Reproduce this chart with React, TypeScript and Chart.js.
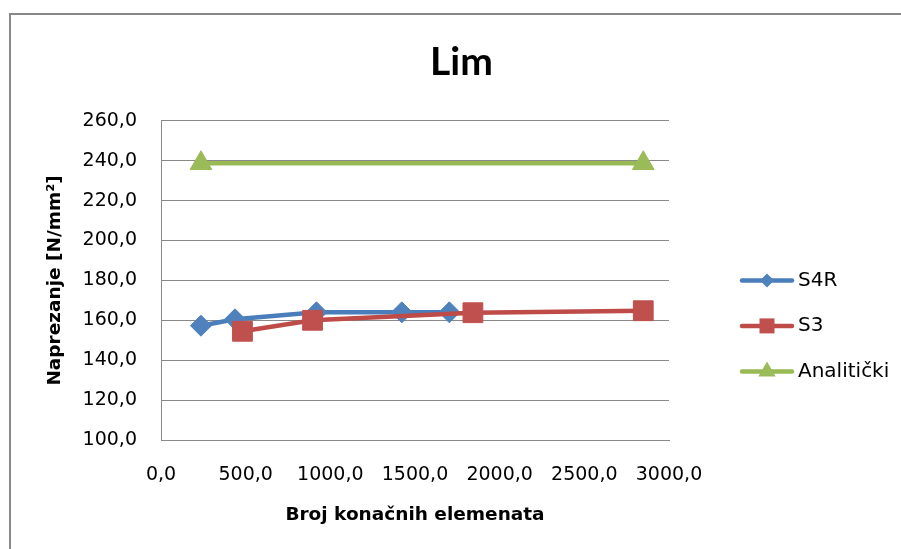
import React, { useEffect, useRef } from 'react';
import { Chart, registerables } from 'chart.js';

Chart.register(...registerables);

// ---- data ----
const chartTitle = 'Lim';
const xAxisTitle = 'Broj konačnih elemenata';
const yAxisTitle = 'Naprezanje [N/mm²]';
const seriesNames = ['S4R', 'S3', 'Analitički'];

const s4rX = [236, 437, 918, 1422, 1703];
const s4rY = [157.3, 160.5, 164.0, 164.0, 164.0];

const s3X = [481, 895, 1842, 2848];
const s3Y = [154.5, 160.0, 163.8, 164.8];

const analitickiX = [236, 2848];
const analitickiY = [238.7, 238.7];

const xMin = 0;
const xMax = 3000;
const xStep = 500;
const yMin = 100;
const yMax = 260;
const yStep = 20;

// ---- styles ----
const blueLine = '#4A7EBB';
const blueFill = '#4F81BD';
const redLine = '#BE4B48';
const redFill = '#C0504D';
const greenLine = '#98B954';
const greenFill = '#9BBB59';
const gridColor = '#898989';

const fmt = (v: number | string) => Number(v).toFixed(1).replace('.', ',');

const toPoints = (xs: number[], ys: number[]) => xs.map((x, i) => ({ x, y: ys[i] }));

function drawShape(ctx: CanvasRenderingContext2D, shape: string, x: number, y: number, r: number) {
  ctx.beginPath();
  if (shape === 'diamond') {
    ctx.moveTo(x, y - r);
    ctx.lineTo(x + r, y);
    ctx.lineTo(x, y + r);
    ctx.lineTo(x - r, y);
  } else if (shape === 'square') {
    ctx.rect(x - r, y - r, 2 * r, 2 * r);
  } else {
    ctx.moveTo(x, y - r);
    ctx.lineTo(x + r * 0.866, y + r * 0.5);
    ctx.lineTo(x - r * 0.866, y + r * 0.5);
  }
  ctx.closePath();
  ctx.fill();
}

const legendPlugin = {
  id: 'customLegend',
  afterDraw(chart: any) {
    const { ctx, chartArea } = chart;
    const mid = (chartArea.top + chartArea.bottom) / 2;
    const items = [
      { label: seriesNames[0], line: blueLine, fill: blueFill, shape: 'diamond', r: 7 },
      { label: seriesNames[1], line: redLine, fill: redFill, shape: 'square', r: 7.5 },
      { label: seriesNames[2], line: greenLine, fill: greenFill, shape: 'triangle', r: 10 },
    ];
    const x0 = chartArea.right + 73;
    const x1 = chartArea.right + 123;
    ctx.save();
    items.forEach((it, i) => {
      const y = mid + i * 45.5;
      ctx.strokeStyle = it.line;
      ctx.lineWidth = 4.5;
      ctx.lineCap = 'round';
      ctx.beginPath();
      ctx.moveTo(x0, y);
      ctx.lineTo(x1, y);
      ctx.stroke();
      ctx.fillStyle = it.fill;
      drawShape(ctx, it.shape, (x0 + x1) / 2, y, it.r);
      ctx.fillStyle = '#000';
      ctx.font = '20px "DejaVu Sans"';
      ctx.textAlign = 'left';
      ctx.textBaseline = 'middle';
      ctx.fillText(it.label, x1 + 6, y);
    });
    ctx.restore();
  },
};

export default function App() {
  const canvasRef = useRef<HTMLCanvasElement | null>(null);

  useEffect(() => {
    const canvas = canvasRef.current;
    if (!canvas) return;
    const chart = new Chart(canvas, {
      type: 'line',
      data: {
        datasets: [
          {
            label: seriesNames[0],
            data: toPoints(s4rX, s4rY),
            borderColor: blueLine,
            backgroundColor: blueFill,
            borderWidth: 4.5,
            pointStyle: 'rectRot',
            pointRadius: 10.5,
            pointBackgroundColor: blueFill,
            pointBorderColor: blueFill,
            pointBorderWidth: 1,
            tension: 0,
            order: 2,
          },
          {
            label: seriesNames[1],
            data: toPoints(s3X, s3Y),
            borderColor: redLine,
            backgroundColor: redFill,
            borderWidth: 4.5,
            pointStyle: 'rect',
            pointRadius: 14,
            pointBackgroundColor: redFill,
            pointBorderColor: redFill,
            pointBorderWidth: 1,
            tension: 0,
            order: 1,
          },
          {
            label: seriesNames[2],
            data: toPoints(analitickiX, analitickiY),
            borderColor: greenLine,
            backgroundColor: greenFill,
            borderWidth: 4.5,
            pointStyle: 'triangle',
            pointRadius: 12.5,
            pointBackgroundColor: greenFill,
            pointBorderColor: greenFill,
            pointBorderWidth: 1,
            tension: 0,
            order: 0,
          },
        ],
      },
      options: {
        animation: false,
        responsive: false,
        maintainAspectRatio: false,
        events: [],
        layout: { padding: { left: 0, right: 0, top: 0, bottom: 0 } },
        plugins: {
          legend: { display: false },
          tooltip: { enabled: false },
          title: {
            display: true,
            text: chartTitle,
            color: '#000',
            font: { family: 'Lato', size: 39, weight: 'bold' },
            padding: { top: 39, bottom: 35 },
          },
        },
        scales: {
          x: {
            type: 'linear',
            min: xMin,
            max: xMax,
            afterFit: (s: any) => { s.height = 109; },
            ticks: {
              stepSize: xStep,
              color: '#000',
              font: { family: 'DejaVu Sans', size: 19 },
              padding: 24,
              maxRotation: 0,
              autoSkip: false,
              callback: (v: any) => fmt(v),
            },
            grid: { display: false, drawTicks: false },
            border: { display: true, color: gridColor, width: 1 },
            title: {
              display: true,
              text: xAxisTitle,
              color: '#000',
              font: { family: 'DejaVu Sans', size: 18.5, weight: 'bold' },
              padding: { top: 0, bottom: 23 },
            },
          },
          y: {
            type: 'linear',
            min: yMin,
            max: yMax,
            afterFit: (s: any) => { s.width = 137; },
            ticks: {
              stepSize: yStep,
              color: '#000',
              font: { family: 'DejaVu Sans', size: 19 },
              padding: 24,
              callback: (v: any) => fmt(v),
            },
            grid: { display: true, color: gridColor, lineWidth: 1, drawTicks: false },
            border: { display: true, color: gridColor, width: 1 },
            title: {
              display: true,
              text: yAxisTitle,
              color: '#000',
              font: { family: 'DejaVu Sans', size: 18.5, weight: 'bold' },
              padding: { top: 20, bottom: 0 },
            },
          },
          legendSpace: {
            type: 'linear',
            position: 'right',
            min: 0,
            max: 1,
            afterFit: (s: any) => { s.width = 230; },
            ticks: { display: false },
            grid: { display: false, drawTicks: false },
            border: { display: false },
            title: { display: false },
          },
        },
      },
      plugins: [legendPlugin],
    } as any);
    return () => chart.destroy();
  }, []);

  return (
    <div style={{ position: 'fixed', left: 0, top: 0, width: 901, height: 549, background: '#fff', overflow: 'hidden' }}>
      <div
        style={{
          position: 'absolute',
          left: 9,
          top: 13,
          width: 1000,
          height: 1000,
          borderTop: '2px solid #888',
          borderLeft: '2px solid #888',
          boxSizing: 'border-box',
        }}
      />
      <canvas
        ref={canvasRef}
        width={875}
        height={549}
        style={{ position: 'absolute', left: 24, top: 0, width: 875, height: 549 }}
      />
    </div>
  );
}
